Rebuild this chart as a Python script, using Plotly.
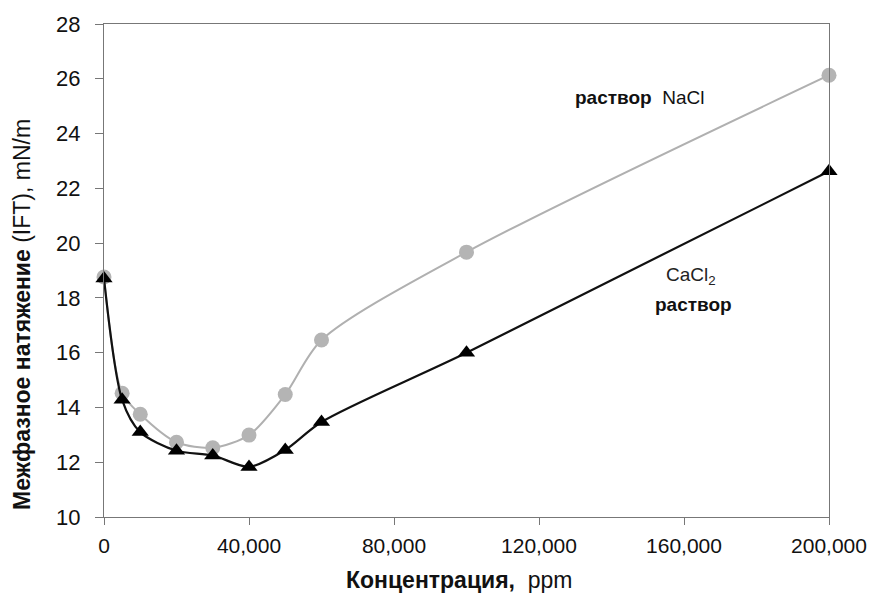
import plotly.graph_objects as go

conc = [0, 5000, 10000, 20000, 30000, 40000, 50000, 60000, 100000, 200000]
ift_nacl = [18.76, 14.52, 13.75, 12.73, 12.53, 12.99, 14.47, 16.46, 19.67, 26.13]
ift_cacl2 = [18.71, 14.28, 13.10, 12.42, 12.25, 11.83, 12.45, 13.47, 16.00, 22.62]

x_ticks = [0, 40000, 80000, 120000, 160000, 200000]
x_tick_labels = ["0", "40,000", "80,000", "120,000", "160,000", "200,000"]
y_ticks = [10, 12, 14, 16, 18, 20, 22, 24, 26, 28]

fig = go.Figure()
fig.add_trace(go.Scatter(
    x=conc, y=ift_nacl, mode="lines+markers", name="NaCl",
    line=dict(color="#b0b0b0", width=2, shape="spline", smoothing=0.8),
    marker=dict(symbol="circle", size=15, color="#b4b4b4"),
    showlegend=False, cliponaxis=False,
))
fig.add_trace(go.Scatter(
    x=conc, y=ift_cacl2, mode="lines+markers", name="CaCl2",
    line=dict(color="#111111", width=2.2, shape="spline", smoothing=0.8),
    marker=dict(symbol="triangle-up", size=15, color="#000000"),
    showlegend=False, cliponaxis=False,
))

fig.add_annotation(x=0.738, y=25.33, xref="paper", yref="y", xanchor="center",
                   text="<b>раствор</b>  NaCl", showarrow=False,
                   font=dict(family="Liberation Sans, Arial", size=19, color="#111111"))
fig.add_annotation(x=0.81, y=18.8, xref="paper", yref="y", xanchor="center",
                   text="CaCl<sub>2</sub>", showarrow=False,
                   font=dict(family="Liberation Sans, Arial", size=19, color="#222222"))
fig.add_annotation(x=0.813, y=17.75, xref="paper", yref="y", xanchor="center",
                   text="<b>раствор</b>", showarrow=False,
                   font=dict(family="Liberation Sans, Arial", size=19, color="#111111"))
# y-axis title (offset downward as in the reference)
fig.add_annotation(x=-0.113, y=0.41, xref="paper", yref="paper",
                   xanchor="center", yanchor="middle", textangle=-90,
                   text="<b>Межфазное натяжение</b> (IFT), mN/m", showarrow=False,
                   font=dict(family="Liberation Sans, Arial", size=23, color="#111111"))
# x-axis title
fig.add_annotation(x=0.49, y=-0.128, xref="paper", yref="paper",
                   xanchor="center", yanchor="middle",
                   text="<b>Концентрация,</b>  ppm", showarrow=False,
                   font=dict(family="Liberation Sans Narrow, Arial Narrow, Liberation Sans", size=23, color="#111111"))

fig.update_layout(
    width=878, height=598,
    margin=dict(l=104, r=49, t=24, b=81),
    paper_bgcolor="white", plot_bgcolor="white",
    font=dict(family="Liberation Sans, Arial", color="#111111"),
)
fig.update_xaxes(
    range=[0, 200000], tickvals=x_ticks, ticktext=x_tick_labels,
    showgrid=False, zeroline=False,
    showline=True, linecolor="#777777", linewidth=1, mirror=True,
    ticks="outside", ticklen=7, tickcolor="#777777", ticklabelstandoff=3,
    tickfont=dict(family="Liberation Sans Narrow, Arial Narrow, Liberation Sans", size=21, color="#111111"),
)
fig.update_yaxes(
    range=[10, 28], tickvals=y_ticks,
    showgrid=False, zeroline=False,
    showline=True, linecolor="#777777", linewidth=1, mirror=True,
    ticks="outside", ticklen=8, tickcolor="#777777", ticklabelstandoff=10,
    tickfont=dict(family="Liberation Sans, Arial", size=22, color="#111111"),
)

fig.write_html("out.html")
